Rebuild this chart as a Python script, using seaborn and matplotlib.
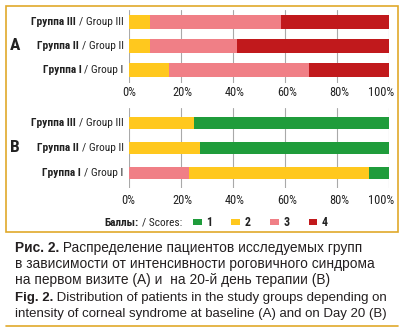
import matplotlib
matplotlib.use("Agg")
import matplotlib.pyplot as plt
import matplotlib.transforms as mtrans
import seaborn as sns
import pandas as pd
from matplotlib import font_manager as fm
from matplotlib.patches import Rectangle, Patch
from matplotlib.lines import Line2D

# ---------------- data ----------------
groups = ["Группа III", "Группа II", "Группа I"]
groups_en = ["/ Group III", "/ Group II", "/ Group I"]
scores = ["1", "2", "3", "4"]
score_colors = ["#1f9c3b", "#ffc81e", "#f07f86", "#c1191c"]

# Panel A – first visit (percent), stacked left->right: 2, 3, 4
a_score2 = [8.3, 8.3, 15.4]
a_score3 = [50.0, 33.3, 53.8]
a_score4 = [41.7, 58.4, 30.8]

# Panel B – day 20 (percent), stacked left->right: 3, 2, 1
b_score3 = [0.0, 0.0, 23.1]
b_score2 = [25.0, 27.3, 69.2]
b_score1 = [75.0, 72.7, 7.7]

x_ticks = [0, 20, 40, 60, 80, 100]
x_ticklabels = ["0%", "20%", "40%", "60%", "80%", "100%"]

caption_ru_bold = "Рис. 2."
caption_ru = [" Распределение пациентов исследуемых групп",
              "в зависимости от интенсивности роговичного синдрома",
              "на первом визите (А) и  на 20-й день терапии (В)"]
caption_en_bold = "Fig. 2."
caption_en = [" Distribution of patients in the study groups depending on",
              "intensity of corneal syndrome at baseline (A) and on Day 20 (B)"]

# ---------------- fonts ----------------
names = {f.name for f in fm.fontManager.ttflist}
cands = [("Liberation Sans Narrow", 8.3, 8.5),
         ("Roboto Condensed", 8.2, 8.9),
         ("Open Sans Condensed", 8.0, 8.6),
         ("Liberation Sans", 7.4, 7.3)]
narrow, lab_size, tick_size = next(c for c in cands if c[0] in names)
regular = "Liberation Sans"

sns.set_theme(style="white")
plt.rcParams["font.family"] = [regular, "DejaVu Sans"]

W, H = 404, 328
fig = plt.figure(figsize=(W / 100, H / 100), dpi=100)
fig.patch.set_facecolor("white")
TXT = "#222222"


def px_axes(x0, y0, x1, y1):
    return fig.add_axes([x0 / W, 1 - y1 / H, (x1 - x0) / W, (y1 - y0) / H])


def stacked(ax, layers, colors, width, ylim, pad):
    # layers: list of value lists in left->right order
    cum = []
    run = [0.0] * len(groups)
    for vals in layers:
        run = [r + v for r, v in zip(run, vals)]
        cum.append(list(run))
    for vals, col in reversed(list(zip(cum, colors))):
        df = pd.DataFrame({"grp": groups, "val": vals})
        sns.barplot(data=df, x="val", y="grp", orient="h", order=groups,
                    color=col, saturation=1, width=width, errorbar=None,
                    linewidth=0, ax=ax)
    ax.set_xlim(0, 100)
    ax.set_ylim(*ylim)
    ax.set_xlabel("")
    ax.set_ylabel("")
    ax.set_xticks(x_ticks)
    ax.set_xticklabels(x_ticklabels, fontfamily=narrow, fontsize=tick_size, color=TXT)
    ax.tick_params(axis="x", length=0, pad=pad)
    # keep the "100%" label inside the frame, nudge others slightly right
    for k, lab in enumerate(ax.get_xticklabels()):
        dx_px = -8 if k == len(x_ticks) - 1 else (2 if k > 0 else 0)
        lab.set_transform(lab.get_transform() +
                          mtrans.ScaledTranslation(dx_px / 100, 0, fig.dpi_scale_trans))
    ax.set_yticks(range(len(groups)))
    ax.set_yticklabels([""] * len(groups))
    ax.tick_params(axis="y", length=0)
    ax.grid(axis="x", color="#a9a9a9", linewidth=0.8)
    ax.set_axisbelow(True)
    for s in ax.spines.values():
        s.set_visible(False)
    ax.patch.set_alpha(0)
    for i in range(len(groups)):
        t = ax.annotate(groups_en[i], xy=(0, i), xycoords=("axes fraction", "data"),
                        xytext=(-5, 0), textcoords="offset pixels",
                        ha="right", va="center", fontfamily=narrow, fontsize=lab_size,
                        color=TXT)
        ax.annotate(groups[i], xy=(0, 0.5), xycoords=t, xytext=(-3, 0),
                    textcoords="offset pixels", ha="right", va="center",
                    fontfamily=narrow, fontweight="bold", fontsize=lab_size,
                    color=TXT)


axA = px_axes(128.7, 10, 389.3, 83)
stacked(axA, [a_score2, a_score3, a_score4],
        [score_colors[1], score_colors[2], score_colors[3]], 0.56, (2.54, -0.5), 2)

axB = px_axes(128.5, 108, 389.3, 188)
stacked(axB, [b_score3, b_score2, b_score1],
        [score_colors[2], score_colors[1], score_colors[0]], 0.48, (2.6, -0.6), 4)

# panel letters
fig.text(15 / W, 1 - 45.5 / H, "A", ha="center", va="center", fontfamily=narrow,
         fontweight="bold", fontsize=12.5, color=TXT)
fig.text(15 / W, 1 - 148 / H, "B", ha="center", va="center", fontfamily=narrow,
         fontweight="bold", fontsize=12.5, color=TXT)

# legend
handles = [Patch(facecolor=c, edgecolor="none") for c in score_colors]
leg = fig.legend(handles, scores, ncol=4, loc="center left",
                 bbox_to_anchor=(193 / W, 1 - 222.7 / H), frameon=False,
                 borderpad=0, borderaxespad=0, handlelength=0.72, handleheight=0.5,
                 handletextpad=0.4, columnspacing=1.6,
                 prop={"family": narrow, "weight": "bold", "size": 8.6})
for txt in leg.get_texts():
    txt.set_color(TXT)
st = fig.text(182 / W, 1 - 222.7 / H, "/ Scores:", ha="right", va="center",
              fontfamily=narrow, fontsize=lab_size, color=TXT)
axA.annotate("Баллы:", xy=(0, 0.5), xycoords=st, xytext=(-3, 0),
             textcoords="offset pixels", ha="right", va="center",
             fontfamily=narrow, fontweight="bold", fontsize=lab_size,
             color=TXT, annotation_clip=False)

# frame
gold = "#e0a92b"
fig.patches.append(Rectangle((5.5 / W, 1 - 232 / H), (398 - 5.5) / W, (232 - 5.5) / H,
                             transform=fig.transFigure, fill=False,
                             edgecolor=gold, linewidth=1.2))
fig.lines.append(Line2D([5.5 / W, 398 / W], [1 - 325.8 / H, 1 - 325.8 / H],
                        transform=fig.transFigure, color=gold, linewidth=1.2))

# caption
ru_size = 9.9
en_size = 9.5
cap_col = "#231f20"
line_y = [248, 264, 280, 298.5, 314.5]
b1 = fig.text(15 / W, 1 - line_y[0] / H, caption_ru_bold, ha="left", va="center",
              fontsize=ru_size, fontweight="bold", color=cap_col)
axA.annotate(caption_ru[0], xy=(1, 0), xycoords=b1, ha="left", va="bottom",
             fontsize=ru_size, color=cap_col, annotation_clip=False)
fig.text(15 / W, 1 - line_y[1] / H, caption_ru[1], ha="left", va="center",
         fontsize=ru_size, color=cap_col)
fig.text(15 / W, 1 - line_y[2] / H, caption_ru[2], ha="left", va="center",
         fontsize=ru_size, color=cap_col)
b2 = fig.text(15 / W, 1 - line_y[3] / H, caption_en_bold, ha="left", va="center",
              fontsize=en_size, fontweight="bold", color=cap_col)
axA.annotate(caption_en[0], xy=(1, 0), xycoords=b2, ha="left", va="bottom",
             fontsize=en_size, color=cap_col, annotation_clip=False)
fig.text(15 / W, 1 - line_y[4] / H, caption_en[1], ha="left", va="center",
         fontsize=en_size, color=cap_col)

fig.savefig("out.png", dpi=100)
